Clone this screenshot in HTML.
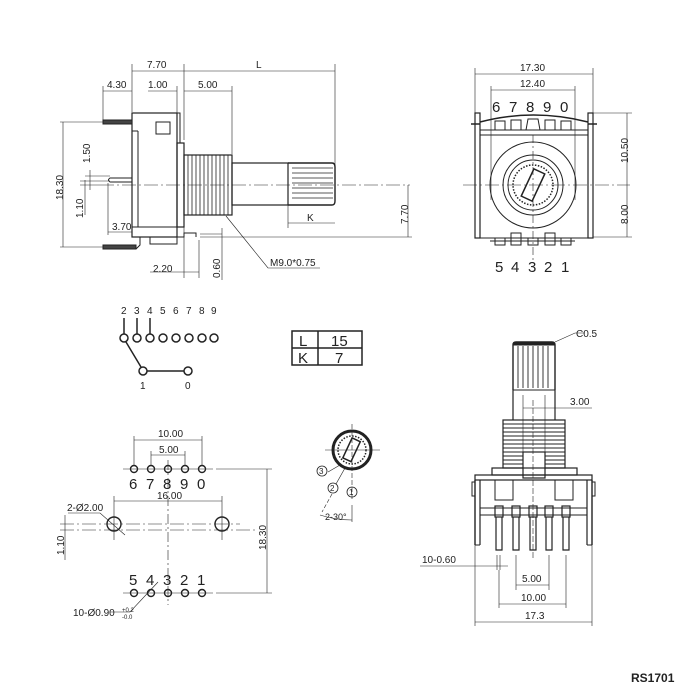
<!DOCTYPE html>
<html><head><meta charset="utf-8"><style>
html,body{margin:0;padding:0;background:#fff}
svg{display:block}
text{font-family:"Liberation Sans",sans-serif;fill:#222}
</style></head><body>
<svg width="700" height="700" viewBox="0 0 700 700" xmlns="http://www.w3.org/2000/svg">
<g stroke="#222" fill="none" stroke-width="1">
<!-- ===== Side view ===== -->
<!-- dims top -->
<line x1="132" y1="71" x2="335" y2="71" stroke-width="0.6"/>
<line x1="132" y1="64" x2="132" y2="112" stroke-width="0.6"/>
<line x1="184" y1="64" x2="184" y2="140" stroke-width="0.6"/>
<line x1="335" y1="64" x2="335" y2="180" stroke-width="0.6"/>
<line x1="103" y1="91" x2="132" y2="91" stroke-width="0.6"/>
<line x1="103" y1="86" x2="103" y2="120" stroke-width="0.6"/>
<line x1="148" y1="91" x2="177" y2="91" stroke-width="0.6"/>
<line x1="177" y1="86" x2="177" y2="115" stroke-width="0.6"/>
<line x1="184" y1="91" x2="232" y2="91" stroke-width="0.6"/>
<line x1="232" y1="86" x2="232" y2="154" stroke-width="0.6"/>
<!-- body -->
<rect x="132" y="113" width="45" height="124" stroke-width="1.2"/>
<rect x="156" y="122" width="14" height="12"/>
<line x1="132" y1="131" x2="138" y2="131"/>
<line x1="138" y1="131" x2="138" y2="227"/>
<line x1="132" y1="227" x2="177" y2="227"/>
<rect x="177" y="143" width="7" height="84" stroke-width="1.2"/>
<path d="M177 113 L180 113 L180 143" />
<!-- thread -->
<rect x="184" y="155" width="48" height="60" stroke-width="1.2"/>
<g stroke-width="0.8">
<line x1="188" y1="155" x2="188" y2="215"/><line x1="192" y1="155" x2="192" y2="215"/>
<line x1="196" y1="155" x2="196" y2="215"/><line x1="200" y1="155" x2="200" y2="215"/>
<line x1="204" y1="155" x2="204" y2="215"/><line x1="208" y1="155" x2="208" y2="215"/>
<line x1="212" y1="155" x2="212" y2="215"/><line x1="216" y1="155" x2="216" y2="215"/>
<line x1="220" y1="155" x2="220" y2="215"/><line x1="224" y1="155" x2="224" y2="215"/>
<line x1="228" y1="155" x2="228" y2="215"/>
</g>
<!-- shaft -->
<rect x="232" y="163" width="56" height="42" stroke-width="1.2"/>
<path d="M288 163 L332 163 Q335 163 335 167 L335 201 Q335 205 332 205 L288 205" stroke-width="1.4"/>
<g stroke-width="0.8">
<line x1="292" y1="168" x2="333" y2="168"/><line x1="292" y1="173" x2="333" y2="173"/>
<line x1="292" y1="178" x2="333" y2="178"/><line x1="292" y1="183" x2="333" y2="183"/>
<line x1="292" y1="188" x2="333" y2="188"/><line x1="292" y1="193" x2="333" y2="193"/>
<line x1="292" y1="198" x2="333" y2="198"/>
</g>
<!-- terminals -->
<rect x="103" y="120" width="29" height="4" fill="#444"/>
<path d="M132 178 L110 178 Q107 180 110 182 L132 182" />
<rect x="103" y="245" width="33" height="4" fill="#444"/>
<path d="M136 249 L140 245 L140 237"/>
<path d="M150 237 L150 244 L177 244 L177 237"/>
<path d="M177 237 L184 237 L184 233 L196 233 L196 237"/>
<!-- centerline -->
<line x1="100" y1="185" x2="410" y2="185" stroke-width="0.6" stroke-dasharray="14,3,2,3"/>
<!-- 18.30 -->
<line x1="63" y1="122" x2="63" y2="247" stroke-width="0.6"/>
<line x1="60" y1="122" x2="103" y2="122" stroke-width="0.6"/>
<line x1="60" y1="247" x2="103" y2="247" stroke-width="0.6"/>
<line x1="90" y1="170" x2="90" y2="190" stroke-width="0.6"/>
<line x1="85" y1="176" x2="110" y2="176" stroke-width="0.6"/>
<line x1="80" y1="181" x2="110" y2="181" stroke-width="0.6"/>
<line x1="80" y1="185" x2="100" y2="185" stroke-width="0.6"/>
<line x1="85" y1="180" x2="85" y2="215" stroke-width="0.6"/>
<line x1="108" y1="183" x2="108" y2="235" stroke-width="0.6"/>
<line x1="108" y1="232" x2="132" y2="232" stroke-width="0.6"/>
<!-- 7.70 right -->
<line x1="408" y1="185" x2="408" y2="237" stroke-width="0.6"/>
<line x1="200" y1="237" x2="412" y2="237" stroke-width="0.6"/>
<line x1="200" y1="234" x2="222" y2="234" stroke-width="0.6"/>
<!-- K -->
<line x1="288" y1="223" x2="335" y2="223" stroke-width="0.6"/>
<line x1="288" y1="205" x2="288" y2="228" stroke-width="0.6"/>
<!-- 2.20 / 0.60 -->
<line x1="184" y1="227" x2="184" y2="278" stroke-width="0.6"/>
<line x1="199" y1="240" x2="199" y2="278" stroke-width="0.6"/>
<line x1="150" y1="272" x2="199" y2="272" stroke-width="0.6"/>
<line x1="222" y1="228" x2="222" y2="280" stroke-width="0.6"/>
<!-- M9 leader -->
<polyline points="226,216 268,268 320,268" stroke-width="0.6"/>

<!-- ===== Front view ===== -->
<line x1="475" y1="74" x2="593" y2="74" stroke-width="0.6"/>
<line x1="475" y1="68" x2="475" y2="113" stroke-width="0.6"/>
<line x1="593" y1="68" x2="593" y2="113" stroke-width="0.6"/>
<line x1="491" y1="90" x2="575" y2="90" stroke-width="0.6"/>
<line x1="491" y1="86" x2="491" y2="200" stroke-width="0.6"/>
<line x1="575" y1="86" x2="575" y2="200" stroke-width="0.6"/>
<rect x="475" y="113" width="5" height="125" stroke-width="1.2"/>
<rect x="588" y="113" width="5" height="125" stroke-width="1.2"/>
<line x1="480" y1="130" x2="588" y2="130"/>
<line x1="480" y1="135" x2="588" y2="135"/>
<line x1="480" y1="238" x2="588" y2="238"/>
<path d="M480 122 Q533 108 588 122" stroke-width="1.5"/>
<line x1="471" y1="124" x2="480" y2="124" stroke-width="1.5"/>
<line x1="588" y1="124" x2="597" y2="124" stroke-width="1.5"/>
<rect x="495" y="121" width="10" height="9"/>
<rect x="511" y="120" width="10" height="10"/>
<rect x="545" y="120" width="10" height="10"/>
<rect x="561" y="121" width="10" height="9"/>
<path d="M526 130 L528 119 L538 119 L540 130"/>
<circle cx="533" cy="185" r="43"/>
<circle cx="533" cy="185" r="30"/>
<circle cx="533" cy="185" r="25"/>
<circle cx="533" cy="185" r="20" stroke-dasharray="1.5,1.5" stroke-width="1.5"/>
<rect x="527" y="170" width="12" height="30" transform="rotate(25 533 185)" stroke-width="1.5"/>
<line x1="463" y1="185" x2="630" y2="185" stroke-width="0.6" stroke-dasharray="14,3,2,3"/>
<line x1="533" y1="135" x2="533" y2="260" stroke-width="0.6" stroke-dasharray="8,3,2,3"/>
<!-- bottom pins -->
<path d="M495 238 L495 245 L505 245 L505 238"/>
<path d="M511 233 L511 245 L521 245 L521 233 Z"/>
<path d="M528 238 L528 245 L538 245 L538 238"/>
<path d="M545 233 L545 245 L555 245 L555 233 Z"/>
<path d="M561 238 L561 245 L571 245 L571 238"/>
<line x1="490" y1="241" x2="575" y2="241"/>
<line x1="627" y1="113" x2="627" y2="237" stroke-width="0.6"/>
<line x1="593" y1="113" x2="632" y2="113" stroke-width="0.6"/>
<line x1="593" y1="237" x2="632" y2="237" stroke-width="0.6"/>

<!-- ===== Schematic ===== -->
<g stroke-width="1.5">
<line x1="124" y1="318" x2="124" y2="334"/>
<line x1="137" y1="318" x2="137" y2="334"/>
<line x1="150" y1="318" x2="150" y2="334"/>
<circle cx="124" cy="338" r="4"/><circle cx="137" cy="338" r="4"/><circle cx="150" cy="338" r="4"/>
<circle cx="163" cy="338" r="4"/><circle cx="176" cy="338" r="4"/><circle cx="189" cy="338" r="4"/>
<circle cx="202" cy="338" r="4"/><circle cx="214" cy="338" r="4"/>
<line x1="126" y1="342" x2="141" y2="367"/>
<circle cx="143" cy="371" r="4"/><circle cx="188" cy="371" r="4"/>
<line x1="147" y1="371" x2="184" y2="371"/>
</g>
<!-- table -->
<rect x="292" y="331" width="70" height="34" stroke-width="1.5"/>
<line x1="292" y1="348" x2="362" y2="348" stroke-width="1.5"/>
<line x1="318" y1="331" x2="318" y2="365" stroke-width="1.5"/>

<!-- ===== Footprint ===== -->
<line x1="134" y1="440" x2="202" y2="440" stroke-width="0.6"/>
<line x1="134" y1="436" x2="134" y2="465" stroke-width="0.6"/>
<line x1="202" y1="436" x2="202" y2="465" stroke-width="0.6"/>
<line x1="151" y1="455" x2="185" y2="455" stroke-width="0.6"/>
<line x1="151" y1="451" x2="151" y2="465" stroke-width="0.6"/>
<line x1="185" y1="451" x2="185" y2="465" stroke-width="0.6"/>
<line x1="123" y1="469" x2="213" y2="469" stroke-width="0.6"/>
<line x1="216" y1="469" x2="272" y2="469" stroke-width="0.6"/>
<line x1="123" y1="593" x2="213" y2="593" stroke-width="0.6"/>
<line x1="216" y1="593" x2="272" y2="593" stroke-width="0.6"/>
<g stroke-width="1.4">
<circle cx="134" cy="469" r="3.5"/><circle cx="151" cy="469" r="3.5"/><circle cx="168" cy="469" r="3.5"/>
<circle cx="185" cy="469" r="3.5"/><circle cx="202" cy="469" r="3.5"/>
<circle cx="134" cy="593" r="3.5"/><circle cx="151" cy="593" r="3.5"/><circle cx="168" cy="593" r="3.5"/>
<circle cx="185" cy="593" r="3.5"/><circle cx="202" cy="593" r="3.5"/>
<circle cx="114" cy="524" r="7"/><circle cx="222" cy="524" r="7"/>
</g>
<line x1="168" y1="460" x2="168" y2="605" stroke-width="0.6" stroke-dasharray="10,3,2,3"/>
<line x1="114" y1="496" x2="114" y2="540" stroke-width="0.6"/>
<line x1="222" y1="496" x2="222" y2="540" stroke-width="0.6"/>
<line x1="114" y1="501" x2="222" y2="501" stroke-width="0.6"/>
<line x1="60" y1="524" x2="240" y2="524" stroke-width="0.6" stroke-dasharray="14,3,2,3"/>
<line x1="60" y1="530" x2="255" y2="530" stroke-width="0.6" stroke-dasharray="14,3,2,3"/>
<line x1="65" y1="515" x2="65" y2="560" stroke-width="0.6"/>
<line x1="267" y1="469" x2="267" y2="593" stroke-width="0.6"/>
<polyline points="68,513 100,513 125,535" stroke-width="0.6"/>
<polyline points="158,582 130,612 110,612" stroke-width="0.6"/>

<!-- ===== Rotary detail ===== -->
<circle cx="352" cy="450" r="19" stroke-width="3"/>
<circle cx="352" cy="450" r="14" stroke-width="1.5" stroke-dasharray="1.5,1.5"/>
<rect x="347" y="439" width="9" height="22" transform="rotate(25 352 450)" stroke-width="1.5"/>
<line x1="325" y1="450" x2="380" y2="450" stroke-width="0.6"/>
<line x1="352" y1="424" x2="352" y2="500" stroke-width="0.6" stroke-dasharray="5,2"/>
<line x1="340" y1="465" x2="328" y2="472" stroke-width="0.6"/>
<line x1="345" y1="468" x2="336" y2="484" stroke-width="0.6"/>
<line x1="332" y1="494" x2="322" y2="512" stroke-width="0.6" stroke-dasharray="4,2"/>
<path d="M320 515 Q335 520 352 520" stroke-width="0.6"/>
<line x1="352" y1="505" x2="352" y2="522" stroke-width="0.6"/>
<circle cx="322" cy="471" r="5" stroke-width="0.8"/>
<circle cx="333" cy="488" r="5" stroke-width="0.8"/>
<circle cx="352" cy="492" r="5" stroke-width="0.8"/>

<!-- ===== 3D view ===== -->
<path d="M513 390 L513 345 Q513 342 516 342 L552 342 Q555 342 555 345 L555 390" stroke-width="1.4"/>
<line x1="513" y1="344" x2="555" y2="344" stroke-width="3"/>
<g stroke-width="0.9">
<line x1="518" y1="346" x2="518" y2="388"/><line x1="523" y1="346" x2="523" y2="388"/>
<line x1="528" y1="346" x2="528" y2="388"/><line x1="533" y1="346" x2="533" y2="388"/>
<line x1="538" y1="346" x2="538" y2="388"/><line x1="543" y1="346" x2="543" y2="388"/>
<line x1="548" y1="346" x2="548" y2="388"/>
</g>
<line x1="513" y1="390" x2="555" y2="390"/>
<line x1="513" y1="390" x2="513" y2="420" stroke-width="1.2"/>
<line x1="555" y1="390" x2="555" y2="420" stroke-width="1.2"/>
<rect x="503" y="420" width="62" height="48" stroke-width="1.2"/>
<g stroke-width="0.9">
<line x1="503" y1="424" x2="565" y2="424"/><line x1="503" y1="428" x2="565" y2="428"/>
<line x1="503" y1="432" x2="565" y2="432"/><line x1="503" y1="436" x2="565" y2="436"/>
<line x1="503" y1="440" x2="565" y2="440"/><line x1="503" y1="444" x2="565" y2="444"/>
<line x1="503" y1="448" x2="565" y2="448"/><line x1="503" y1="452" x2="565" y2="452"/>
<line x1="503" y1="456" x2="565" y2="456"/><line x1="503" y1="460" x2="565" y2="460"/>
<line x1="503" y1="464" x2="565" y2="464"/>
</g>
<rect x="523" y="452" width="22" height="26" fill="#fff" stroke-width="1.2"/>
<rect x="492" y="468" width="85" height="7" stroke-width="1.2"/>
<rect x="475" y="475" width="117" height="5" stroke-width="1.2"/>
<line x1="475" y1="480" x2="475" y2="545" stroke-width="1.4"/>
<line x1="480" y1="480" x2="480" y2="545" stroke-width="1.2"/>
<line x1="587" y1="480" x2="587" y2="545" stroke-width="1.2"/>
<line x1="592" y1="480" x2="592" y2="545" stroke-width="1.4"/>
<line x1="475" y1="545" x2="480" y2="545"/><line x1="587" y1="545" x2="592" y2="545"/>
<rect x="472" y="482" width="3" height="14"/><rect x="592" y="482" width="3" height="14"/>
<rect x="495" y="480" width="18" height="20"/>
<rect x="555" y="480" width="18" height="20"/>
<line x1="480" y1="508" x2="587" y2="508"/>
<line x1="480" y1="515" x2="587" y2="515"/>
<g stroke-width="1.2">
<rect x="495" y="506" width="8" height="11"/><rect x="512" y="506" width="8" height="11"/>
<rect x="529" y="506" width="8" height="11"/><rect x="545" y="506" width="8" height="11"/>
<rect x="562" y="506" width="8" height="11"/>
<path d="M496 517 L496 550 L502 550 L502 517"/>
<path d="M513 517 L513 550 L519 550 L519 517"/>
<path d="M530 517 L530 550 L536 550 L536 517"/>
<path d="M546 517 L546 550 L552 550 L552 517"/>
<path d="M563 517 L563 550 L569 550 L569 517"/>
</g>
<line x1="533" y1="400" x2="533" y2="560" stroke-width="0.6" stroke-dasharray="6,2"/>
<line x1="523" y1="395" x2="523" y2="455" stroke-width="0.6"/>
<line x1="545" y1="395" x2="545" y2="455" stroke-width="0.6"/>
<line x1="523" y1="408" x2="592" y2="408" stroke-width="0.6"/>
<polyline points="555,342 575,333 585,333" stroke-width="0.6"/>
<line x1="497" y1="555" x2="497" y2="570" stroke-width="0.6"/>
<line x1="500" y1="555" x2="500" y2="570" stroke-width="0.6"/>
<line x1="420" y1="566" x2="508" y2="566" stroke-width="0.6"/>
<line x1="516" y1="555" x2="516" y2="590" stroke-width="0.6"/>
<line x1="549" y1="555" x2="549" y2="590" stroke-width="0.6"/>
<line x1="516" y1="585" x2="549" y2="585" stroke-width="0.6"/>
<line x1="499" y1="570" x2="499" y2="608" stroke-width="0.6"/>
<line x1="566" y1="555" x2="566" y2="608" stroke-width="0.6"/>
<line x1="499" y1="604" x2="566" y2="604" stroke-width="0.6"/>
<line x1="475" y1="545" x2="475" y2="626" stroke-width="0.6"/>
<line x1="592" y1="545" x2="592" y2="626" stroke-width="0.6"/>
<line x1="475" y1="622" x2="592" y2="622" stroke-width="0.6"/>
</g>

<!-- ===== Text ===== -->
<g font-size="10">
<text x="147" y="68">7.70</text>
<text x="256" y="68">L</text>
<text x="107" y="88">4.30</text>
<text x="148" y="88">1.00</text>
<text x="198" y="88">5.00</text>
<text x="307" y="221">K</text>
<text x="112" y="230">3.70</text>
<text x="153" y="272">2.20</text>
<text x="270" y="266">M9.0*0.75</text>
<text transform="translate(63,200) rotate(-90)">18.30</text>
<text transform="translate(90,163) rotate(-90)">1.50</text>
<text transform="translate(83,218) rotate(-90)">1.10</text>
<text transform="translate(220,278) rotate(-90)">0.60</text>
<text transform="translate(408,224) rotate(-90)">7.70</text>
<text x="520" y="71">17.30</text>
<text x="520" y="87">12.40</text>
<text transform="translate(628,163) rotate(-90)">10.50</text>
<text transform="translate(628,224) rotate(-90)">8.00</text>
<text x="158" y="437">10.00</text>
<text x="159" y="453">5.00</text>
<text x="157" y="499">16.00</text>
<text x="67" y="511">2-Ø2.00</text>
<text transform="translate(64,555) rotate(-90)">1.10</text>
<text transform="translate(266,550) rotate(-90)">18.30</text>
<text x="73" y="616">10-Ø0.90</text>
<text x="122" y="612" font-size="6">+0.2</text>
<text x="122" y="619" font-size="6">-0.0</text>
<text x="576" y="337">C0.5</text>
<text x="570" y="405">3.00</text>
<text x="422" y="563">10-0.60</text>
<text x="522" y="582">5.00</text>
<text x="521" y="601">10.00</text>
<text x="525" y="619">17.3</text>
<text x="325" y="520" font-size="9">2-30°</text>
</g>
<g font-size="15">
<text x="492" y="112">6</text><text x="509" y="112">7</text><text x="526" y="112">8</text><text x="543" y="112">9</text><text x="560" y="112">0</text>
<text x="495" y="272">5</text><text x="511" y="272">4</text><text x="528" y="272">3</text><text x="544" y="272">2</text><text x="561" y="272">1</text>
<text x="129" y="489">6</text><text x="146" y="489">7</text><text x="163" y="489">8</text><text x="180" y="489">9</text><text x="197" y="489">0</text>
<text x="129" y="585">5</text><text x="146" y="585">4</text><text x="163" y="585">3</text><text x="180" y="585">2</text><text x="197" y="585">1</text>
<text x="299" y="346">L</text><text x="331" y="346">15</text>
<text x="298" y="363">K</text><text x="335" y="363">7</text>
</g>
<g font-size="10">
<text x="121" y="314">2</text><text x="134" y="314">3</text><text x="147" y="314">4</text><text x="160" y="314">5</text>
<text x="173" y="314">6</text><text x="186" y="314">7</text><text x="199" y="314">8</text><text x="211" y="314">9</text>
<text x="140" y="389">1</text><text x="185" y="389">0</text>
<text x="319" y="474" font-size="8">3</text><text x="330" y="491" font-size="8">2</text><text x="349" y="495" font-size="8">1</text>
</g>
<text x="631" y="682" font-size="12" font-weight="bold">RS1701</text>
</svg>
</body></html>
